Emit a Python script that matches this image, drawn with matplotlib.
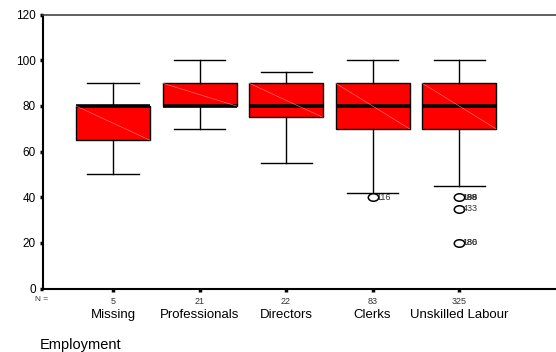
import matplotlib
matplotlib.use("Agg")
import matplotlib.pyplot as plt
from matplotlib.path import Path
from matplotlib.transforms import blended_transform_factory, offset_copy, Affine2D

categories = ["Missing", "Professionals", "Directors", "Clerks", "Unskilled Labour"]
counts = [5, 21, 22, 83, 325]
whislo = [50, 70, 55, 42, 45]
q1 = [65, 80, 75, 70, 70]
med = [80, 80, 80, 80, 80]
q3 = [80, 90, 90, 90, 90]
whishi = [90, 100, 95, 100, 100]
fliers = [[], [], [], [40], [40, 35, 20]]
flier_labels = [[], [], [], [["116"]], [["188", "198", "189"], ["433"], ["180", "186"]]]
yticks = [0, 20, 40, 60, 80, 100, 120]

plt.rcParams["font.family"] = ["Liberation Sans", "DejaVu Sans"]

fig = plt.figure(figsize=(5.56, 3.52), dpi=100)
ax = fig.add_axes([43/556, 1-288.6/352, 1-43/556, (288.6-14.7)/352])

ellipse = Path.unit_circle().transformed(Affine2D().scale(1.0, 0.72))

positions = list(range(1, len(categories)+1))
stats = []
for i in range(len(categories)):
    stats.append(dict(whislo=whislo[i], q1=q1[i], med=med[i], q3=q3[i],
                      whishi=whishi[i], fliers=fliers[i], label=categories[i]))

ax.bxp(stats, positions=positions, widths=0.855, patch_artist=True,
       showfliers=True,
       boxprops=dict(facecolor="#ff0000", edgecolor="black", linewidth=1.0),
       medianprops=dict(color="black", linewidth=2.6, solid_capstyle="butt"),
       whiskerprops=dict(color="black", linewidth=1.0),
       capprops=dict(color="black", linewidth=1.0),
       capwidths=0.59,
       flierprops=dict(marker=ellipse, markersize=7.5, markerfacecolor="white",
                       markeredgecolor="black", markeredgewidth=1.1))

# faint diagonal line in each box
for i, p in enumerate(positions):
    ax.plot([p-0.4275, p+0.4275], [q3[i], q1[i]], color="#ff8080", lw=0.4, zorder=3)

# outlier labels
for i, p in enumerate(positions):
    for j, v in enumerate(fliers[i]):
        for lab in flier_labels[i][j]:
            ax.annotate(lab, (p, v), xytext=(2.6, 0), textcoords="offset points",
                        fontsize=6.5, va="center", ha="left", color="#333333")

ax.set_xlim(0.191, 6.12)
ax.set_ylim(0, 120)
ax.set_yticks(yticks)
ax.set_yticklabels([str(t) for t in yticks], fontsize=8.5)
ax.set_xticks(positions)
ax.set_xticklabels([str(c) for c in counts], fontsize=6.5)
ax.tick_params(axis="x", length=2, width=2.5, pad=4, colors="black")
ax.tick_params(axis="y", length=2, width=2.5, pad=3)
for lbl in ax.get_xticklabels():
    lbl.set_color("#333333")

ax.spines["right"].set_visible(False)
ax.spines["left"].set_linewidth(1.5)
ax.spines["bottom"].set_linewidth(1.5)
ax.spines["top"].set_linewidth(1.2)
ax.spines["top"].set_color("#444444")

trans = blended_transform_factory(ax.transData, ax.transAxes)
ax.text(0.175, 0, "N =", transform=offset_copy(trans, fig=fig, y=-11, units="dots"),
        fontsize=6, ha="center", va="center", color="#333333")
for p, c in zip(positions, categories):
    ax.text(p, 0, c, transform=offset_copy(trans, fig=fig, y=-26.5, units="dots"),
            fontsize=9.5, ha="center", va="center")

fig.text(40/556, 1-345/352, "Employment", fontsize=10.5, ha="left", va="center")

fig.savefig("out.png", dpi=100)
